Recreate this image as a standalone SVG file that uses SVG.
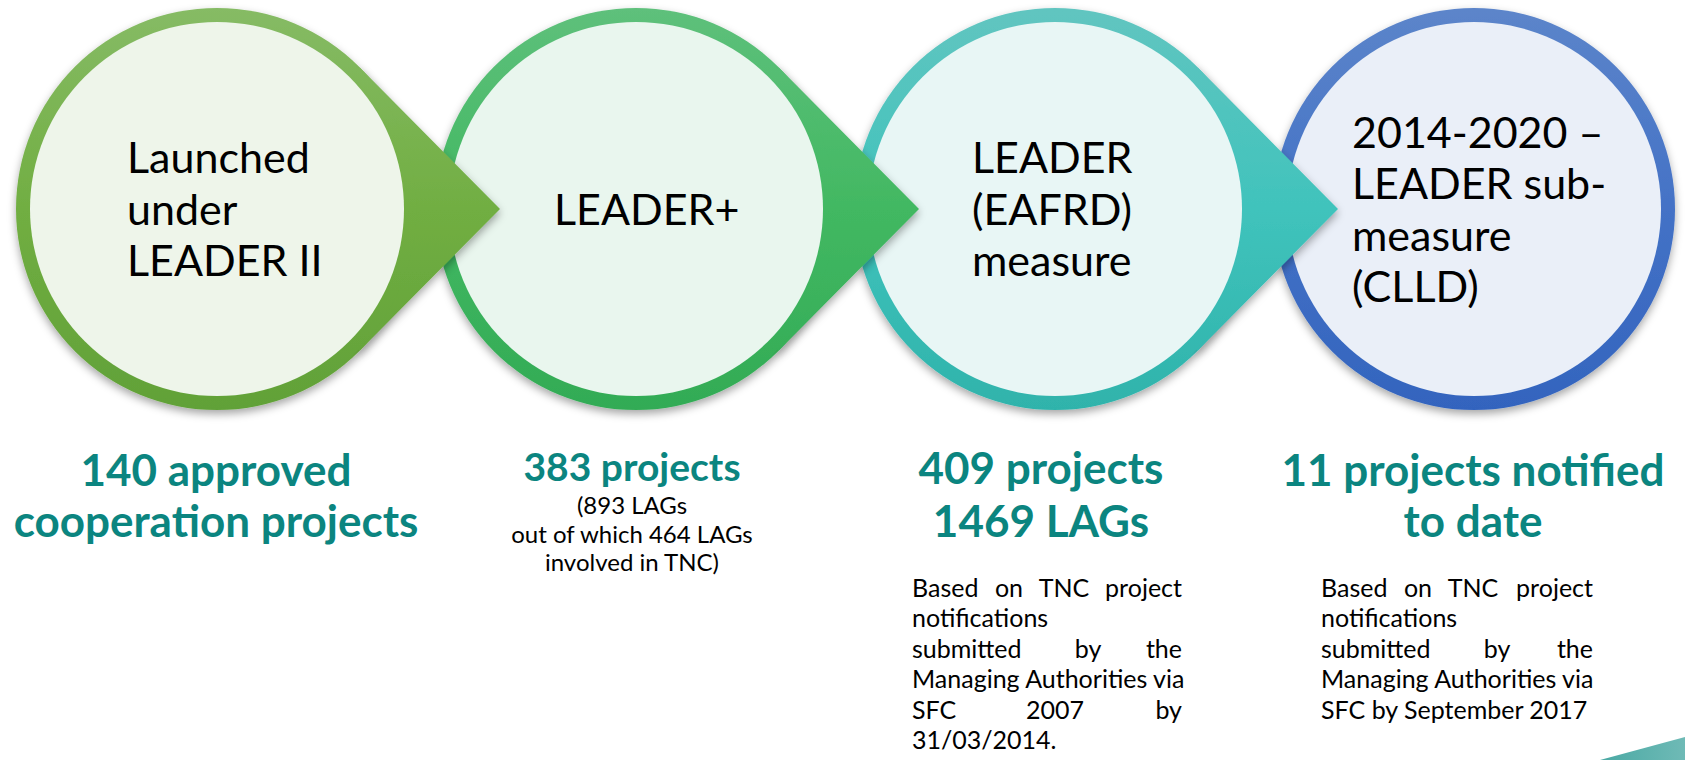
<svg xmlns="http://www.w3.org/2000/svg" width="1685" height="760" viewBox="0 0 1685 760">
<style>
.ct{font-family:Lato,"Open Sans","DejaVu Sans",sans-serif;font-size:43px;fill:#000}
.hd{font-family:Lato,"Open Sans","DejaVu Sans",sans-serif;font-weight:700;font-size:44px;fill:#0b8580;text-anchor:middle}
.sm{font-family:Lato,"Open Sans","DejaVu Sans",sans-serif;font-size:24px;fill:#000;text-anchor:middle}
.pa{font-family:Lato,"Open Sans","DejaVu Sans",sans-serif;font-size:25px;fill:#000}
.mid{text-anchor:middle}
.end{text-anchor:end}
</style>
<defs>
<filter id="sh" x="-10%" y="-10%" width="120%" height="125%">
<feDropShadow dx="0" dy="4" stdDeviation="4" flood-color="#000" flood-opacity="0.35"/>
</filter>
<mask id="m1" maskUnits="userSpaceOnUse" x="0" y="0" width="1685" height="760">
<rect width="1685" height="760" fill="#fff"/><circle cx="217" cy="209" r="199.5" fill="#000"/>
</mask>
<mask id="m2" maskUnits="userSpaceOnUse" x="0" y="0" width="1685" height="760">
<rect width="1685" height="760" fill="#fff"/><circle cx="636" cy="209" r="199.5" fill="#000"/>
</mask>
<mask id="m3" maskUnits="userSpaceOnUse" x="0" y="0" width="1685" height="760">
<rect width="1685" height="760" fill="#fff"/><circle cx="1055" cy="209" r="199.5" fill="#000"/>
</mask>
<linearGradient id="g1" gradientUnits="userSpaceOnUse" x1="0" y1="8" x2="0" y2="410">
<stop offset="0" stop-color="#86bb65"/><stop offset="0.5" stop-color="#71ae42"/><stop offset="1" stop-color="#61a138"/>
</linearGradient>
<linearGradient id="g2" gradientUnits="userSpaceOnUse" x1="0" y1="8" x2="0" y2="410">
<stop offset="0" stop-color="#5ec07b"/><stop offset="0.5" stop-color="#42b862"/><stop offset="1" stop-color="#32ab55"/>
</linearGradient>
<linearGradient id="g3" gradientUnits="userSpaceOnUse" x1="0" y1="8" x2="0" y2="410">
<stop offset="0" stop-color="#61c5c0"/><stop offset="0.5" stop-color="#40c3bc"/><stop offset="1" stop-color="#2fb3ab"/>
</linearGradient>
<linearGradient id="g4" gradientUnits="userSpaceOnUse" x1="0" y1="8" x2="0" y2="410">
<stop offset="0" stop-color="#5c85ca"/><stop offset="0.5" stop-color="#4472c6"/><stop offset="1" stop-color="#3364be"/>
</linearGradient>
<linearGradient id="gw" x1="0" y1="0" x2="1" y2="0">
<stop offset="0" stop-color="#4aa9a4"/><stop offset="1" stop-color="#6fbab6"/>
</linearGradient>
</defs>
<rect width="1685" height="760" fill="#fff"/>

<g id="node-leader2" filter="url(#sh)">
<circle cx="217" cy="209" r="201" fill="url(#g1)"/>
<circle cx="217" cy="209" r="187" fill="#eef5ea"/>
</g>
<g id="node-leaderplus" filter="url(#sh)">
<circle cx="636" cy="209" r="201" fill="url(#g2)"/>
<circle cx="636" cy="209" r="187" fill="#e9f6ee"/>
</g>
<g id="node-eafrd" filter="url(#sh)">
<circle cx="1055" cy="209" r="201" fill="url(#g3)"/>
<circle cx="1055" cy="209" r="187" fill="#e8f6f5"/>
</g>
<g id="node-clld" filter="url(#sh)">
<circle cx="1474" cy="209" r="201" fill="url(#g4)"/>
<circle cx="1474" cy="209" r="187" fill="#eaeff8"/>
</g>

<g id="connectors">
<g mask="url(#m1)"><path filter="url(#sh)" fill="url(#g1)" d="M359.8,67.5 L500,209 L359.8,350.5 L357.6,348.4 A198,198 0 0 0 357.6,69.6 Z"/></g>
<g mask="url(#m2)"><path filter="url(#sh)" fill="url(#g2)" d="M778.8,67.5 L919,209 L778.8,350.5 L776.6,348.4 A198,198 0 0 0 776.6,69.6 Z"/></g>
<g mask="url(#m3)"><path filter="url(#sh)" fill="url(#g3)" d="M1197.8,67.5 L1338,209 L1197.8,350.5 L1195.6,348.4 A198,198 0 0 0 1195.6,69.6 Z"/></g>
</g>

<g id="label-leader2">
<text class="ct" x="127" y="173">Launched</text>
<text class="ct" x="127" y="224.5">under</text>
<text class="ct" x="127" y="276">LEADER II</text>
</g>
<g id="label-leaderplus">
<text class="ct" x="554" y="224.5">LEADER+</text>
</g>
<g id="label-eafrd">
<text class="ct" x="972" y="173">LEADER</text>
<text class="ct" x="972" y="224.5">(EAFRD)</text>
<text class="ct" x="972" y="276">measure</text>
</g>
<g id="label-clld">
<text class="ct" x="1352" y="147.5">2014-2020 –</text>
<text class="ct" x="1352" y="199">LEADER sub-</text>
<text class="ct" x="1352" y="250.5">measure</text>
<text class="ct" x="1352" y="302">(CLLD)</text>
</g>

<g id="stat-leader2">
<text class="hd" x="216" y="486">140 approved</text>
<text class="hd" x="216" y="537">cooperation projects</text>
</g>
<g id="stat-leaderplus">
<text class="hd" x="632" y="481" style="font-size:39px">383 projects</text>
<text class="sm" x="632" y="514">(893 LAGs</text>
<text class="sm" x="632" y="543">out of which 464 LAGs</text>
<text class="sm" x="632" y="571">involved in TNC)</text>
</g>
<g id="stat-eafrd">
<text class="hd" x="1041" y="484">409 projects</text>
<text class="hd" x="1041" y="537">1469 LAGs</text>
<text class="pa" x="912" y="597">Based</text>
<text class="pa mid" x="1009" y="597">on</text>
<text class="pa mid" x="1064" y="597">TNC</text>
<text class="pa end" x="1182" y="597">project</text>
<text class="pa" x="912" y="627.4">notifications</text>
<text class="pa" x="912" y="657.8">submitted</text>
<text class="pa mid" x="1088" y="657.8">by</text>
<text class="pa end" x="1182" y="657.8">the</text>
<text class="pa" x="912" y="688.2">Managing Authorities via</text>
<text class="pa" x="912" y="718.6">SFC</text>
<text class="pa mid" x="1055" y="718.6">2007</text>
<text class="pa end" x="1182" y="718.6">by</text>
<text class="pa" x="912" y="749">31/03/2014.</text>
</g>
<g id="stat-clld">
<text class="hd" x="1473" y="486">11 projects notified</text>
<text class="hd" x="1473" y="537">to date</text>
<text class="pa" x="1321" y="597">Based</text>
<text class="pa mid" x="1418" y="597">on</text>
<text class="pa mid" x="1473" y="597">TNC</text>
<text class="pa end" x="1593" y="597">project</text>
<text class="pa" x="1321" y="627.4">notifications</text>
<text class="pa" x="1321" y="657.8">submitted</text>
<text class="pa mid" x="1497" y="657.8">by</text>
<text class="pa end" x="1593" y="657.8">the</text>
<text class="pa" x="1321" y="688.2">Managing Authorities via</text>
<text class="pa" x="1321" y="718.6">SFC by September 2017</text>
</g>

<path id="corner-wedge" d="M1600,760 L1685,737 L1685,760 Z" fill="url(#gw)"/>
</svg>
